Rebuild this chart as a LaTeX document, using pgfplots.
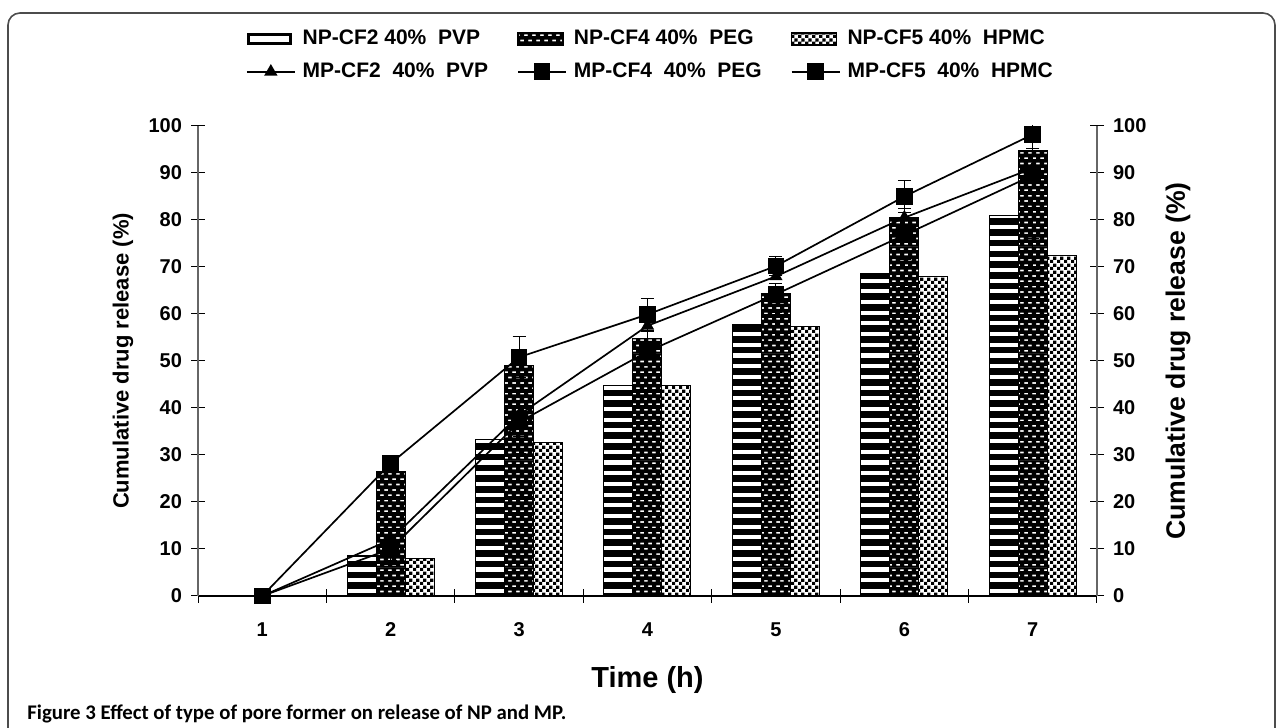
\documentclass[border=0pt]{standalone}
\usepackage{pgfplots}
\pgfplotsset{compat=1.18}
\usetikzlibrary{patterns}
\usepackage{fontspec}
\setmainfont{Liberation Sans}
\newfontfamily\capfont{Carlito}

\pgfdeclarepatternformonly{myhstripes}{\pgfqpoint{-0.5pt}{0pt}}{\pgfqpoint{30.5pt}{5.35pt}}{\pgfqpoint{30pt}{5.35pt}}{%
  \pgfpathrectangle{\pgfqpoint{-0.5pt}{0pt}}{\pgfqpoint{31pt}{3.3pt}}%
  \pgfusepath{fill}}
\pgfdeclarepatternformonly{mybricks}{\pgfqpoint{-0.1pt}{-0.1pt}}{\pgfqpoint{4.1pt}{5.45pt}}{\pgfqpoint{4pt}{5.35pt}}{%
  \pgfseteorule
  \pgfpathrectangle{\pgfqpoint{-0.1pt}{-0.1pt}}{\pgfqpoint{4.2pt}{5.55pt}}%
  \pgfpathrectangle{\pgfqpoint{0.1pt}{0.9pt}}{\pgfqpoint{2.0pt}{0.85pt}}%
  \pgfpathrectangle{\pgfqpoint{2.1pt}{3.575pt}}{\pgfqpoint{1.8pt}{0.85pt}}%
  \pgfusepath{fill}}
\pgfdeclarepatternformonly{mychecks}{\pgfqpoint{0pt}{0pt}}{\pgfqpoint{3.6pt}{3.6pt}}{\pgfqpoint{3.6pt}{3.6pt}}{%
  \pgfpathrectangle{\pgfqpoint{0pt}{0pt}}{\pgfqpoint{1.8pt}{1.8pt}}%
  \pgfpathrectangle{\pgfqpoint{1.8pt}{1.8pt}}{\pgfqpoint{1.8pt}{1.8pt}}%
  \pgfusepath{fill}}

\pgfplotstableread{
x y e
1 0 0
2 8.6 1.0
3 33.2 2.8
4 44.7 3.3
5 57.7 3.0
6 68.7 3.0
7 80.9 4.9
}\npcftwo
\pgfplotstableread{
x y e
1 0 0
2 26.5 0
3 49.0 0
4 54.7 1.5
5 64.4 2.0
6 80.5 2.0
7 94.7 2.0
}\npcffour
\pgfplotstableread{
x y e
1 0 0
2 7.9 1.3
3 32.6 1.3
4 44.7 3.2
5 57.3 3.1
6 67.9 3.9
7 72.5 3.0
}\npcffive
\pgfplotstableread{
x y e
1 0 0
2 12.0 0
3 38.5 0
4 57.5 0
5 68.0 0
6 80.5 0
7 91.0 0
}\mpcftwo
\pgfplotstableread{
x y e
1 0 0
2 28.2 0
3 50.8 4.4
4 59.9 3.4
5 70.2 2.0
6 85.0 3.5
7 98.2 3.0
}\mpcffour
\pgfplotstableread{
x y e
1 0 0
2 10.0 0
3 37.0 0
4 52.0 0
5 64.2 0
6 76.8 0
7 89.5 0
}\mpcffive

\pgfplotsset{
  barerr/.style={error bars/.cd, y dir=both, y explicit,
    error bar style={black, line width=0.5pt},
    error mark options={rotate=90, mark size=3.25pt, black, line width=0.5pt}},
  npbar/.style={ybar, bar width=14.5pt, draw=black, line width=0.5pt, pattern color=black,
    legend image code/.code={\draw[draw=black, line width=0.8pt, ##1] (0pt,-3pt) rectangle (22.5pt,3pt);}},
  mpline/.style={sharp plot, black, line width=0.85pt, mark options={solid, black},
    legend image code/.code={\draw[mark repeat=2, mark phase=2, ##1] plot coordinates {(0pt,0pt) (12pt,0pt) (24pt,0pt)};}},
  cftwoimg/.style={legend image code/.code={\draw[draw=black, line width=1.6pt, fill=white] (0.8pt,-2.2pt) rectangle (21.7pt,2.2pt);}},
}

\begin{document}
\begin{tikzpicture}
\useasboundingbox (0pt,0pt) rectangle (641pt,364pt);
\draw[black!70, line width=0.8pt, rounded corners=6pt] (4pt,-2pt) -- (4pt,357.5pt) -- (637.5pt,357.5pt) -- (637.5pt,-2pt);
\node[anchor=base west, inner sep=0pt] at (13.5pt,4pt) {\capfont\fontsize{10.4}{12}\selectfont\bfseries Figure 3 Effect of type of pore former on release of NP and MP.};

\begin{axis}[
  at={(99pt,66pt)}, anchor=south west,
  scale only axis, width=449.5pt, height=235pt,
  xmin=0.5, xmax=7.5, ymin=0, ymax=100,
  axis y line*=left, axis x line*=bottom,
  y axis line style={black!60, line width=0.6pt},
  x axis line style={black, line width=0.6pt},
  xtick={1,...,7}, minor xtick={0.5,1.5,...,7.5},
  ytick={0,10,...,100},
  tick align=center, major tick length=7pt, minor tick length=7pt,
  major x tick style={draw=none},
  minor x tick style={black, line width=0.5pt},
  ytick style={black, line width=0.5pt},
  /pgf/number format/assume math mode=true,
  ticklabel style={font=\bfseries\fontsize{10}{12}\selectfont},
  yticklabel style={xshift=-1pt},
  xticklabel style={yshift=-6pt, text height=7.3pt, text depth=0pt},
  ylabel={Cumulative drug release (\%)},
  ylabel style={at={(axis description cs:-0.0834,0.5)}, anchor=center, font=\bfseries\fontsize{11}{13}\selectfont},
  xlabel={Time (h)},
  xlabel style={at={(axis description cs:0.5,-0.1787)}, anchor=center, font=\bfseries\fontsize{14.5}{17}\selectfont},
  legend columns=3,
  legend cell align=left,
  legend style={draw=none, fill=none, inner sep=0pt, outer sep=0pt,
    at={(axis description cs:0.0534,1.208)}, anchor=north west,
    font=\bfseries\fontsize{10.5}{12}\selectfont,
    row sep=5.5pt,
    nodes={inner sep=1pt},
    /tikz/every even column/.append style={column sep=13.5pt},
    /tikz/every odd column/.append style={column sep=2.5pt}},
]
\addplot[npbar, cftwoimg, bar shift=-14.5pt, pattern=myhstripes, barerr] table[x=x, y=y, y error=e] {\npcftwo};
\addlegendentry{NP-CF2 40\%\ \ PVP}
\addplot[npbar, bar shift=0pt, pattern=mybricks, barerr] table[x=x, y=y, y error=e] {\npcffour};
\addlegendentry{NP-CF4 40\%\ \ PEG}
\addplot[npbar, bar shift=14.5pt, pattern=mychecks, barerr] table[x=x, y=y, y error=e] {\npcffive};
\addlegendentry{NP-CF5 40\%\ \ HPMC}
\addplot[mpline, mark=triangle*, mark size=3pt] table[x=x, y=y] {\mpcftwo};
\addlegendentry{MP-CF2\ \ 40\%\ \ PVP}
\addplot[mpline, mark=square*, mark size=3.75pt, barerr] table[x=x, y=y, y error=e] {\mpcffour};
\addlegendentry{MP-CF4\ \ 40\%\ \ PEG}
\addplot[mpline, mark=square*, mark size=3.75pt] table[x=x, y=y] {\mpcffive};
\addlegendentry{MP-CF5\ \ 40\%\ \ HPMC}
\end{axis}

\begin{axis}[
  at={(99pt,66pt)}, anchor=south west,
  scale only axis, width=449.5pt, height=235pt,
  xmin=0.5, xmax=7.5, ymin=0, ymax=100,
  axis y line*=right, axis x line=none,
  y axis line style={black!60, line width=0.6pt},
  ytick={0,10,...,100},
  tick align=center, major tick length=7pt,
  ytick style={black, line width=0.5pt},
  /pgf/number format/assume math mode=true,
  ticklabel style={font=\bfseries\fontsize{10}{12}\selectfont},
  yticklabel style={xshift=1pt},
  ylabel={Cumulative drug release (\%)},
  ylabel style={at={(axis description cs:1.0901,0.5)}, anchor=center, font=\bfseries\fontsize{13.3}{16}\selectfont},
]
\end{axis}
\end{tikzpicture}
\end{document}
